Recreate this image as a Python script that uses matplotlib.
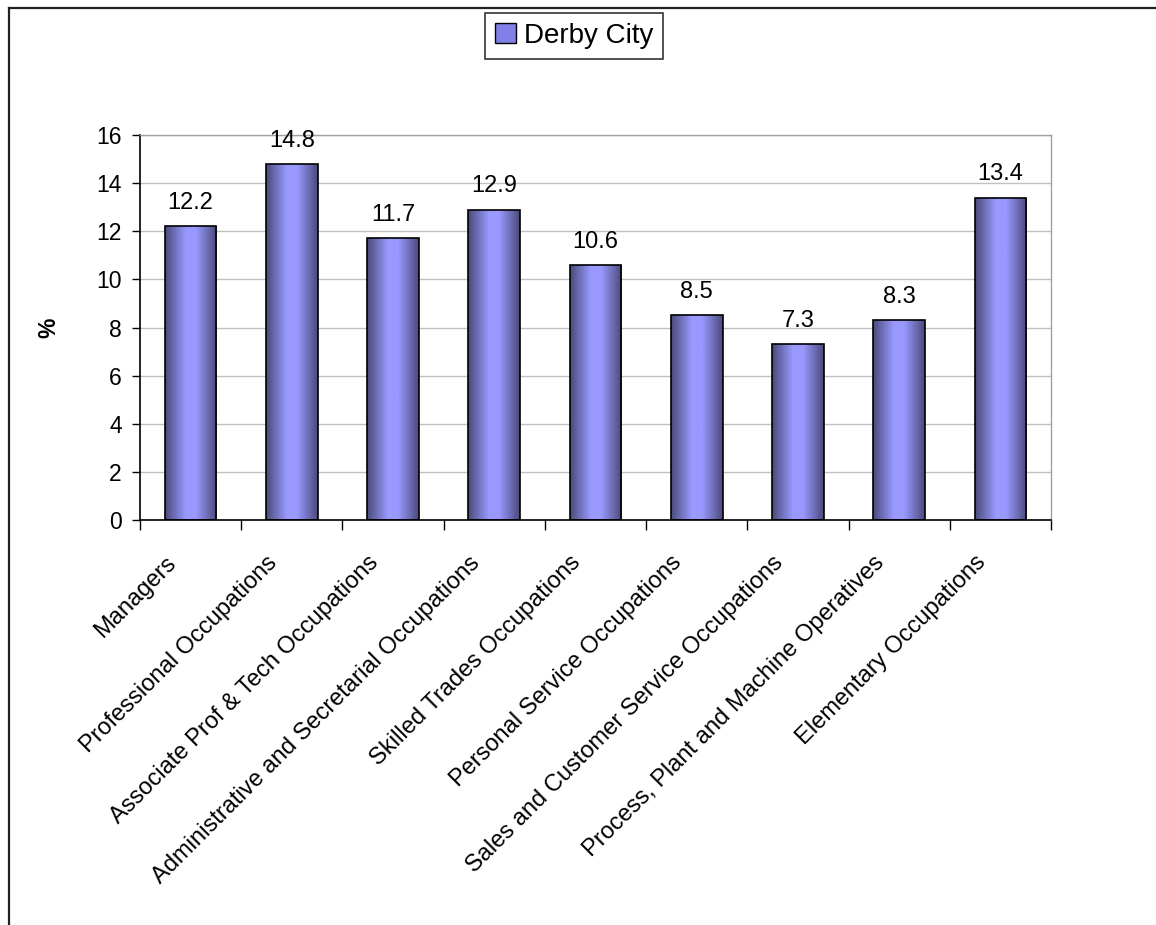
import matplotlib
matplotlib.use("Agg")
import matplotlib.pyplot as plt
import numpy as np
from matplotlib.patches import Patch
from matplotlib.colors import LinearSegmentedColormap
from matplotlib.lines import Line2D
from matplotlib.transforms import ScaledTranslation

categories = ["Managers", "Professional Occupations", "Associate Prof & Tech Occupations",
              "Administrative and Secretarial Occupations", "Skilled Trades Occupations",
              "Personal Service Occupations", "Sales and Customer Service Occupations",
              "Process, Plant and Machine Operatives", "Elementary Occupations"]
values = [12.2, 14.8, 11.7, 12.9, 10.6, 8.5, 7.3, 8.3, 13.4]
yticks = [0, 2, 4, 6, 8, 10, 12, 14, 16]
series_name = "Derby City"

plt.rcParams['font.family'] = ['Liberation Sans', 'DejaVu Sans']

W, H = 1156, 925
fig = plt.figure(figsize=(W / 100, H / 100), dpi=100)
ax = fig.add_axes([140 / W, 1 - 520 / H, (1051 - 140) / W, (520 - 135) / H])

cmap = LinearSegmentedColormap.from_list(
    "grad", [(0.0, "#4a4a78"), (0.4, "#9999ff"), (0.6, "#9999ff"), (1.0, "#4a4a7a")])
grad = np.linspace(0, 1, 256).reshape(1, -1)

x = np.arange(len(categories))
bw = 0.51
bars = ax.bar(x, values, width=bw, color="none", edgecolor="black", linewidth=1.2, zorder=3)
for b in bars:
    bx, by = b.get_x(), b.get_y()
    im = ax.imshow(grad, cmap=cmap, aspect="auto", zorder=2,
                   extent=[bx, bx + b.get_width(), by, by + b.get_height()])
    im.set_clip_path(b)

for xi, v in zip(x, values):
    ax.annotate(f"{v}", (xi, v), xytext=(0, 12.5), textcoords="offset points",
                ha="center", va="baseline", fontsize=17)

ax.set_xlim(-0.5, len(categories) - 0.5)
ax.set_ylim(0, 16)
ax.set_yticks(yticks)
ax.tick_params(axis="y", labelsize=16.5, direction="out", length=6, width=1, pad=7)
ax.yaxis.grid(True, color="#c0c0c0", linewidth=1)
ax.set_axisbelow(True)

ax.set_xticks(x)
ax.set_xticklabels(categories, rotation=45, ha="right", va="top",
                   rotation_mode="anchor", fontsize=17)
ax.tick_params(axis="x", which="major", length=0, pad=12)
off = ScaledTranslation(-0.26, -0.15, fig.dpi_scale_trans)
for lab in ax.get_xticklabels():
    lab.set_transform(lab.get_transform() + off)
ax.set_xticks(np.arange(-0.5, len(categories), 1), minor=True)
ax.tick_params(axis="x", which="minor", length=7, width=1, direction="out")

for s in ["top", "right"]:
    ax.spines[s].set_color("#a0a0a0")
    ax.spines[s].set_linewidth(1)
for s in ["left", "bottom"]:
    ax.spines[s].set_color("black")
    ax.spines[s].set_linewidth(1.2)

ax.set_ylabel("%", fontsize=16.5, fontweight="bold", labelpad=26)

handle = Patch(facecolor="#8080e6", edgecolor="black", linewidth=1)
leg = fig.legend([handle], [series_name], loc="center", bbox_to_anchor=(574 / W, 1 - 36 / H),
                 fontsize=20, frameon=True, fancybox=False, edgecolor="black",
                 handlelength=0.75, handleheight=0.75, handletextpad=0.3, borderpad=0.35,
                 borderaxespad=0)
leg.get_frame().set_linewidth(1.2)

# outer frame
fig.add_artist(Line2D([9 / W, 9 / W], [0, 1 - 8 / H], color="#222222", linewidth=1.6,
                      transform=fig.transFigure))
fig.add_artist(Line2D([9 / W, 1], [1 - 8 / H, 1 - 8 / H], color="#222222", linewidth=1.6,
                      transform=fig.transFigure))

fig.savefig("out.png", dpi=100)
